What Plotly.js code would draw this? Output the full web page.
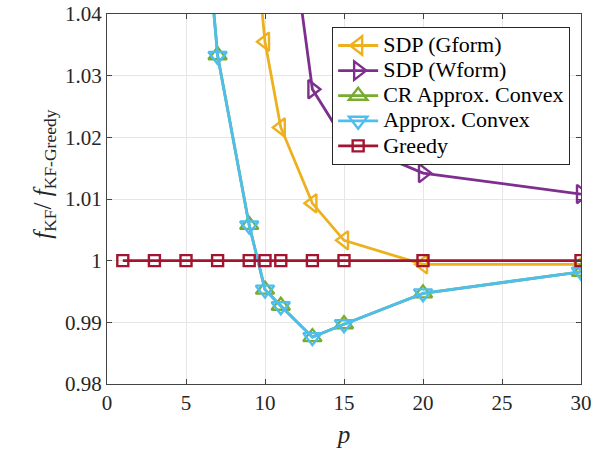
<!DOCTYPE html>
<html>
<head>
<meta charset="utf-8">
<script src="https://cdn.plot.ly/plotly-3.0.1.min.js"></script>
<style>html,body{margin:0;padding:0;background:#fff;}#chart{width:611px;height:456px;}</style>
</head>
<body>
<div id="chart"></div>
<script>
// Data
const xGform = [9, 10, 11, 13, 15, 20, 30];
const yGform = [1.062, 1.0355, 1.0216, 1.0093, 1.0033, 0.9994, 0.9994];

const xWform = [11, 13, 15, 20, 30];
const yWform = [1.066, 1.0278, 1.0196, 1.0142, 1.0108];

const xConvex = [5, 7, 9, 10, 11, 13, 15, 20, 30];
const yCR = [1.092, 1.0333, 1.0058, 0.9953, 0.9927, 0.9876, 0.9897, 0.9947, 0.9982];
const yApprox = [1.092, 1.0332, 1.0057, 0.9953, 0.9926, 0.9876, 0.9897, 0.9947, 0.9982];

const xGreedy = [1, 3, 5, 7, 9, 10, 11, 13, 15, 20, 30];
const yGreedy = [1, 1, 1, 1, 1, 1, 1, 1, 1, 1, 1];

const names = ['SDP (Gform)', 'SDP (Wform)', 'CR Approx. Convex', 'Approx. Convex', 'Greedy'];
const xTicks = [0, 5, 10, 15, 20, 25, 30];
const yTicks = [0.98, 0.99, 1, 1.01, 1.02, 1.03, 1.04];
const yTickText = ['0.98', '0.99', '1', '1.01', '1.02', '1.03', '1.04'];
const yTitle = '<i>f</i><sub>KF</sub>/ <i>f</i><sub>KF-Greedy</sub>';
const xTitle = '<i>p</i>';

const FONT = '"Times New Roman", "Liberation Serif", "DejaVu Serif", serif';

function tr(x, y, name, color, symbol, size) {
  return {
    x: x, y: y, name: '<span style="font-size:22px">' + name + '</span>',
    type: 'scatter', mode: 'lines+markers',
    line: {color: color, width: 2.8},
    marker: {symbol: symbol, size: size, color: color, line: {color: color, width: 2.4}},
    cliponaxis: true
  };
}

const data = [
  tr(xGform, yGform, names[0], '#EDB120', 'triangle-left-open', 16),
  tr(xWform, yWform, names[1], '#7E2F8E', 'triangle-right-open', 16),
  tr(xConvex, yCR, names[2], '#77AC30', 'triangle-up-open', 16),
  tr(xConvex, yApprox, names[3], '#4DBEEE', 'triangle-down-open', 16),
  tr(xGreedy, yGreedy, names[4], '#A2142F', 'square-open', 11)
];

const layout = {
  width: 611, height: 456,
  margin: {l: 107, r: 30, t: 14, b: 72},
  paper_bgcolor: '#fff', plot_bgcolor: '#fff',
  font: {family: FONT, size: 21, color: '#262626'},
  showlegend: true,
  legend: {
    x: 0.475, y: 0.965, xanchor: 'left', yanchor: 'top',
    bgcolor: '#fff', bordercolor: '#262626', borderwidth: 1,
    font: {family: FONT, size: 17, color: '#000'},
    tracegroupgap: 0, itemwidth: 40
  },
  xaxis: {
    range: [0, 30], tickvals: xTicks, ticktext: xTicks.map(String),
    showgrid: true, gridcolor: '#e6e6e6', gridwidth: 1,
    zeroline: false, showline: true, linecolor: '#444', linewidth: 1,
    mirror: 'ticks', ticks: 'inside', ticklen: 5, tickcolor: '#444',
    tickfont: {family: FONT, size: 21, color: '#262626'},
    title: {text: xTitle, font: {family: FONT, size: 25, color: '#262626'}, standoff: 11}
  },
  yaxis: {
    range: [0.98, 1.04], tickvals: yTicks, ticktext: yTickText,
    showgrid: true, gridcolor: '#e6e6e6', gridwidth: 1,
    zeroline: false, showline: true, linecolor: '#444', linewidth: 1,
    mirror: 'ticks', ticks: 'inside', ticklen: 5, tickcolor: '#444',
    tickfont: {family: FONT, size: 21, color: '#262626'}
  },
  annotations: [{
    text: yTitle, xref: 'paper', yref: 'paper',
    x: -0.131, y: 0.568, xanchor: 'center', yanchor: 'middle',
    textangle: -90, showarrow: false,
    font: {family: FONT, size: 25, color: '#262626'}
  }]
};

Plotly.newPlot('chart', data, layout, {displayModeBar: false, staticPlot: true});
</script>
</body>
</html>
